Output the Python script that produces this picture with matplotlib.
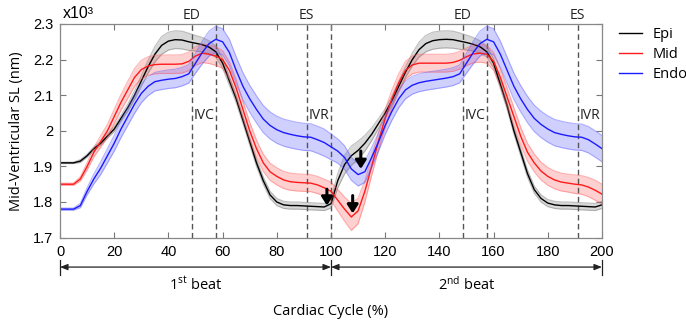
import numpy as np
import matplotlib
matplotlib.use("Agg")
import matplotlib.pyplot as plt

plt.rcParams['mathtext.fontset'] = 'custom'
plt.rcParams['mathtext.rm'] = 'Open Sans'
plt.rcParams['mathtext.it'] = 'Open Sans'
plt.rcParams['mathtext.bf'] = 'Open Sans'

# ---------------- data ----------------
cycle = [i * 2.5 for i in range(81)]

epi = [1.91, 1.91, 1.91, 1.915, 1.93, 1.95, 1.965, 1.985, 2.005, 2.035,
       2.065, 2.10, 2.14, 2.18, 2.215, 2.24, 2.252, 2.256, 2.255, 2.25,
       2.246, 2.242, 2.235, 2.222, 2.19, 2.14, 2.09, 2.03, 1.97, 1.91,
       1.86, 1.82, 1.80, 1.792, 1.79, 1.79, 1.789, 1.788, 1.787, 1.786,
       1.795, 1.86, 1.905, 1.93, 1.945, 1.965, 1.99, 2.02, 2.05, 2.085,
       2.125, 2.165, 2.20, 2.228, 2.245, 2.253, 2.256, 2.257, 2.256, 2.252,
       2.248, 2.243, 2.236, 2.222, 2.19, 2.13, 2.07, 2.0, 1.94, 1.88,
       1.835, 1.81, 1.797, 1.792, 1.79, 1.79, 1.789, 1.788, 1.787, 1.786,
       1.792]

mid = [1.85, 1.85, 1.85, 1.865, 1.90, 1.94, 1.97, 2.0, 2.04, 2.08,
       2.115, 2.15, 2.172, 2.182, 2.186, 2.187, 2.187, 2.187, 2.188, 2.195,
       2.21, 2.218, 2.215, 2.21, 2.2, 2.17, 2.12, 2.06, 2.0, 1.95,
       1.91, 1.885, 1.872, 1.862, 1.857, 1.855, 1.854, 1.853, 1.848, 1.84,
       1.83, 1.805, 1.78, 1.758, 1.775, 1.83, 1.90, 1.97, 2.035, 2.09,
       2.135, 2.17, 2.185, 2.19, 2.19, 2.19, 2.19, 2.19, 2.192, 2.198,
       2.208, 2.216, 2.218, 2.215, 2.195, 2.15, 2.095, 2.04, 1.985, 1.94,
       1.91, 1.887, 1.872, 1.862, 1.856, 1.853, 1.85, 1.848, 1.842, 1.833,
       1.822]

endo = [1.78, 1.78, 1.78, 1.79, 1.83, 1.865, 1.895, 1.93, 1.965, 2.005,
        2.04, 2.075, 2.105, 2.125, 2.138, 2.142, 2.145, 2.147, 2.152, 2.16,
        2.19, 2.22, 2.245, 2.257, 2.25, 2.22, 2.17, 2.125, 2.09, 2.06,
        2.033, 2.015, 2.003, 1.995, 1.99, 1.986, 1.983, 1.982, 1.975, 1.967,
        1.955, 1.943, 1.925, 1.893, 1.877, 1.885, 1.925, 1.968, 2.015, 2.055,
        2.09, 2.115, 2.128, 2.135, 2.139, 2.142, 2.145, 2.148, 2.152, 2.16,
        2.19, 2.22, 2.245, 2.257, 2.25, 2.215, 2.17, 2.125, 2.09, 2.06,
        2.035, 2.018, 2.005, 1.995, 1.99, 1.986, 1.983, 1.982, 1.975, 1.963,
        1.95]

epi_sd = [0.002, 0.002, 0.002, 0.004, 0.004, 0.005, 0.005, 0.006, 0.007, 0.008,
          0.010, 0.012, 0.015, 0.018, 0.022, 0.025, 0.025, 0.025, 0.025, 0.024,
          0.022, 0.020, 0.018, 0.016, 0.014, 0.012, 0.011, 0.010, 0.010, 0.010,
          0.010, 0.010, 0.010, 0.010, 0.010, 0.010, 0.010, 0.010, 0.010, 0.010,
          0.012, 0.020, 0.026, 0.027, 0.026, 0.022, 0.018, 0.014, 0.012, 0.012,
          0.013, 0.015, 0.018, 0.021, 0.023, 0.024, 0.024, 0.024, 0.024, 0.023,
          0.021, 0.019, 0.017, 0.015, 0.013, 0.011, 0.010, 0.010, 0.010, 0.010,
          0.010, 0.010, 0.010, 0.010, 0.010, 0.010, 0.010, 0.010, 0.010, 0.010,
          0.010]

mid_sd = [0.003, 0.003, 0.003, 0.006, 0.010, 0.013, 0.016, 0.018, 0.020, 0.022,
          0.024, 0.025, 0.026, 0.026, 0.026, 0.026, 0.026, 0.026, 0.026, 0.026,
          0.026, 0.026, 0.026, 0.026, 0.025, 0.024, 0.024, 0.024, 0.024, 0.024,
          0.024, 0.024, 0.024, 0.024, 0.024, 0.024, 0.024, 0.024, 0.024, 0.024,
          0.026, 0.030, 0.034, 0.038, 0.036, 0.030, 0.026, 0.025, 0.025, 0.025,
          0.025, 0.025, 0.025, 0.025, 0.025, 0.025, 0.025, 0.025, 0.025, 0.025,
          0.025, 0.025, 0.025, 0.025, 0.025, 0.025, 0.025, 0.025, 0.025, 0.025,
          0.025, 0.025, 0.025, 0.025, 0.025, 0.025, 0.026, 0.026, 0.027, 0.028,
          0.028]

endo_sd = [0.003, 0.003, 0.003, 0.006, 0.010, 0.014, 0.018, 0.020, 0.022, 0.024,
           0.025, 0.026, 0.026, 0.026, 0.026, 0.026, 0.026, 0.026, 0.026, 0.026,
           0.028, 0.032, 0.035, 0.037, 0.037, 0.037, 0.038, 0.038, 0.038, 0.038,
           0.038, 0.038, 0.038, 0.038, 0.038, 0.038, 0.038, 0.038, 0.038, 0.038,
           0.036, 0.034, 0.033, 0.032, 0.032, 0.030, 0.028, 0.026, 0.025, 0.025,
           0.025, 0.025, 0.025, 0.025, 0.025, 0.025, 0.025, 0.025, 0.025, 0.025,
           0.028, 0.032, 0.035, 0.037, 0.037, 0.037, 0.037, 0.037, 0.037, 0.037,
           0.037, 0.037, 0.037, 0.037, 0.037, 0.037, 0.037, 0.037, 0.037, 0.037,
           0.037]

series_names = ["Epi", "Mid", "Endo"]

ed_pos = [48.6, 148.6]
ivc_end = [57.6, 157.6]
es_pos = [91.0, 191.0]
ivr_end = [100.0, 200.0]

arrow_x = [98.5, 108.0, 111.0]
arrow_from = [1.836, 1.818, 1.943]
arrow_to = [1.790, 1.768, 1.893]

xticks = [0, 20, 40, 60, 80, 100, 120, 140, 160, 180, 200]
yticks = [1.7, 1.8, 1.9, 2.0, 2.1, 2.2, 2.3]
ytick_labels = ["1.7", "1.8", "1.9", "2", "2.1", "2.2", "2.3"]

# ---------------- figure ----------------
fig = plt.figure(figsize=(6.86, 3.23), dpi=100)
ax = fig.add_axes([0.0875, 0.2644, 0.790, 0.6613])

colors = ["#000000", "#ff1a1a", "#1a1aff"]
fills = [(0.45, 0.45, 0.45), (1.0, 0.35, 0.35), (0.35, 0.35, 1.0)]
x = np.array(cycle)
handles = []
for name, m, sd, c, fc in zip(series_names, [epi, mid, endo],
                              [epi_sd, mid_sd, endo_sd], colors, fills):
    m = np.array(m)
    sd = np.array(sd)
    ax.fill_between(x, m - sd, m + sd, color=fc, alpha=0.28, lw=0)
    ax.plot(x, m + sd, color=fc, alpha=0.45, lw=0.8)
    ax.plot(x, m - sd, color=fc, alpha=0.45, lw=0.8)
    h, = ax.plot(x, m, color=c, lw=1.0, label=name)
    handles.append(h)

dash_col = "#555555"
for xs in ed_pos + ivc_end + es_pos + ivr_end[:1]:
    ax.axvline(xs, color=dash_col, ls=(0, (4, 2.5)), lw=1.0, zorder=1)

ann_font = dict(family="Open Sans", fontsize=10, color="#222222")
for e in ed_pos:
    ax.text(e, 2.303, "ED", ha="center", va="bottom", **ann_font)
for e in es_pos:
    ax.text(e, 2.303, "ES", ha="center", va="bottom", **ann_font)
for a, b in zip(ed_pos, ivc_end):
    ax.text((a + b) / 2, 2.044, "IVC", ha="center", va="center", **ann_font)
for a, b in zip(es_pos, ivr_end):
    ax.text((a + b) / 2, 2.044, "IVR", ha="center", va="center", **ann_font)

for xa, y0, y1 in zip(arrow_x, arrow_from, arrow_to):
    ax.annotate("", xy=(xa, y1), xytext=(xa, y0),
                arrowprops=dict(arrowstyle="-|>,head_length=0.5,head_width=0.32",
                                color="black", lw=2.2, shrinkA=0, shrinkB=0))

ax.set_xlim(0, 200)
ax.set_ylim(1.7, 2.3)
ax.set_xticks(xticks)
ax.set_yticks(yticks)
ax.set_yticklabels(ytick_labels)
ax.tick_params(direction="in", length=4, width=0.8, color="#777777",
               top=True, right=True, labelsize=10.5, pad=5)
for lbl in ax.get_xticklabels() + ax.get_yticklabels():
    lbl.set_fontfamily("Liberation Sans")
for sp in ax.spines.values():
    sp.set_color("#888888")
    sp.set_linewidth(0.9)

ax.set_ylabel("Mid-Ventricular SL (nm)", family="Open Sans", fontsize=10.5, labelpad=6)
ax.text(0.005, 1.015, "x10\u00b3", transform=ax.transAxes, ha="left", va="bottom",
        family="Liberation Sans", fontsize=11.5)

# beat arrows below axis
yb = -0.138
tr = ax.get_xaxis_transform()
for a, b in zip([0, 100], [100, 200]):
    ax.annotate("", xy=(a, yb), xytext=(b, yb), xycoords=tr, textcoords=tr,
                arrowprops=dict(arrowstyle="<|-|>,head_length=0.45,head_width=0.18",
                                color="#222222", lw=0.9, shrinkA=0, shrinkB=0),
                annotation_clip=False)
for xb in [0, 100, 200]:
    ax.plot([xb, xb], [yb + 0.035, yb - 0.035], transform=tr, color="#222222",
            lw=0.9, clip_on=False)
ax.text(50, -0.22, r"1$^{\mathrm{st}}$ beat", transform=tr, ha="center", va="center",
        family="Open Sans", fontsize=10.5)
ax.text(150, -0.22, r"2$^{\mathrm{nd}}$ beat", transform=tr, ha="center", va="center",
        family="Open Sans", fontsize=10.5)
ax.text(100, -0.345, "Cardiac Cycle (%)", transform=tr, ha="center", va="center",
        family="Open Sans", fontsize=10.5)

leg = fig.legend(handles=handles, loc="upper left",
                 bbox_to_anchor=(619 / 686, 1 - 27 / 323),
                 frameon=False, handlelength=1.6, handletextpad=0.7,
                 borderpad=0, borderaxespad=0,
                 labelspacing=0.35, prop=dict(family="Open Sans", size=10.5))

fig.savefig("out.png", dpi=100)
